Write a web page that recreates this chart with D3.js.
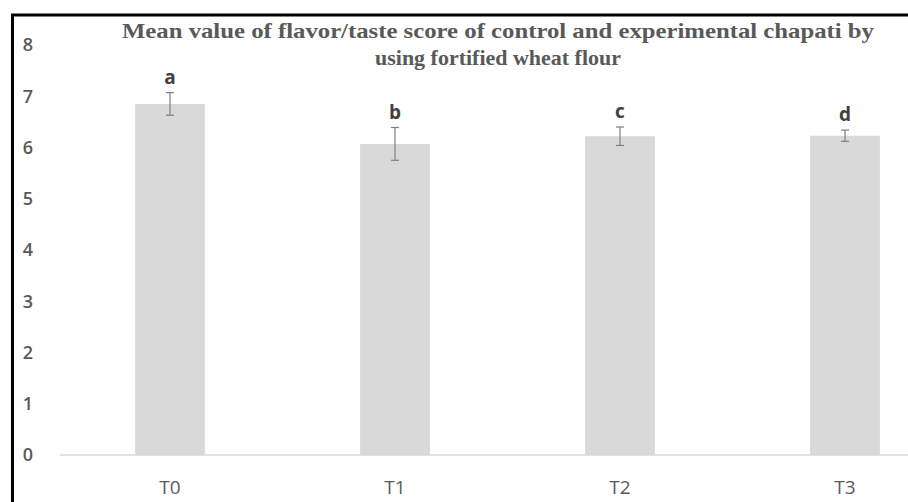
<!DOCTYPE html>
<html>
<head>
<meta charset="utf-8">
<script src="https://cdn.jsdelivr.net/npm/d3@7"></script>
<style>
  body { margin: 0; background: #fff; }
</style>
</head>
<body>
<div id="chart"></div>
<script>
var w = 908, h = 502;

// data
var groups = ["T0", "T1", "T2", "T3"];
var means = [6.85, 6.07, 6.22, 6.23];
var errors = [0.22, 0.32, 0.18, 0.11];
var letters = ["a", "b", "c", "d"];
var yTicks = [0, 1, 2, 3, 4, 5, 6, 7, 8];
var titleLines = ["Mean value of flavor/taste score of control and experimental chapati by",
                  "using fortified wheat flour"];

var svg = d3.select("#chart")
  .append("svg")
    .attr("width", w)
    .attr("height", h);

// Scales (plot runs off the right edge, like the cropped original)
var xScale = d3.scaleBand().domain(groups).range([57.5, 957.5])
  .paddingInner(0.69).paddingOuter(0.345);
var yScale = d3.scaleLinear().domain([0, 8]).range([455, 45]);

// frame lines (top and left)
svg.append("line").attr("x1", 11).attr("x2", w).attr("y1", 15).attr("y2", 15)
  .attr("stroke", "#000").attr("stroke-width", 3);
svg.append("line").attr("x1", 12.5).attr("x2", 12.5).attr("y1", 14).attr("y2", h)
  .attr("stroke", "#000").attr("stroke-width", 3);

// Y axis labels (no axis line)
var yAxis = d3.axisLeft(yScale).tickValues(yTicks).tickSize(0).tickPadding(0);
var yg = svg.append("g").attr("transform", "translate(33,0)").call(yAxis);
yg.select(".domain").remove();
yg.selectAll("text")
  .attr("fill", "#595959")
  .style("font-family", "'Open Sans', 'Liberation Sans', sans-serif")
  .style("font-weight", "600")
  .style("font-size", "18px");

// baseline
svg.append("line").attr("x1", 60).attr("x2", w)
  .attr("y1", yScale(0)).attr("y2", yScale(0))
  .attr("stroke", "#d9d9d9").attr("stroke-width", 1.5);

// bars
svg.selectAll("rect.bar")
  .data(groups)
  .enter().append("rect")
    .attr("class", "bar")
    .attr("x", function(d) { return xScale(d); })
    .attr("y", function(d, i) { return yScale(means[i]); })
    .attr("width", xScale.bandwidth())
    .attr("height", function(d, i) { return yScale(0) - yScale(means[i]); })
    .attr("fill", "#d9d9d9");

// error bars
var eb = svg.selectAll("g.err")
  .data(groups)
  .enter().append("g")
    .attr("class", "err")
    .attr("stroke", "#7f7f7f")
    .attr("stroke-width", 1.2);
eb.append("line")
  .attr("x1", function(d) { return xScale(d) + xScale.bandwidth() / 2; })
  .attr("x2", function(d) { return xScale(d) + xScale.bandwidth() / 2; })
  .attr("y1", function(d, i) { return yScale(means[i] + errors[i]); })
  .attr("y2", function(d, i) { return yScale(means[i] - errors[i]); });
[1, -1].forEach(function(s) {
  eb.append("line")
    .attr("x1", function(d) { return xScale(d) + xScale.bandwidth() / 2 - 4; })
    .attr("x2", function(d) { return xScale(d) + xScale.bandwidth() / 2 + 4; })
    .attr("y1", function(d, i) { return yScale(means[i] + s * errors[i]); })
    .attr("y2", function(d, i) { return yScale(means[i] + s * errors[i]); });
});

// significance letters
svg.selectAll("text.letter")
  .data(groups)
  .enter().append("text")
    .attr("class", "letter")
    .attr("x", function(d) { return xScale(d) + xScale.bandwidth() / 2; })
    .attr("y", function(d, i) { return yScale(means[i] + errors[i]) - 9; })
    .attr("text-anchor", "middle")
    .attr("fill", "#404040")
    .style("font-family", "'Open Sans', 'Liberation Sans', sans-serif")
    .style("font-weight", "bold")
    .style("font-size", "19px")
    .text(function(d, i) { return letters[i]; });

// X axis labels
var xAxis = d3.axisBottom(xScale).tickSize(0).tickPadding(0);
var xg = svg.append("g").attr("transform", "translate(0,480)").call(xAxis);
xg.select(".domain").remove();
xg.selectAll("text")
  .attr("fill", "#595959")
  .style("font-family", "'Open Sans', 'Liberation Sans', sans-serif")
  .style("font-size", "19px");

// title
svg.selectAll("text.title")
  .data(titleLines)
  .enter().append("text")
    .attr("class", "title")
    .attr("x", 498)
    .attr("y", function(d, i) { return 38 + i * 27; })
    .attr("text-anchor", "middle")
    .attr("fill", "#595959")
    .attr("textLength", function(d, i) { return i === 0 ? 752 : 246; })
    .attr("lengthAdjust", "spacingAndGlyphs")
    .style("font-family", "'Liberation Serif', 'DejaVu Serif', serif")
    .style("font-weight", "bold")
    .style("font-size", "21px")
    .text(function(d) { return d; });
</script>
</body>
</html>
